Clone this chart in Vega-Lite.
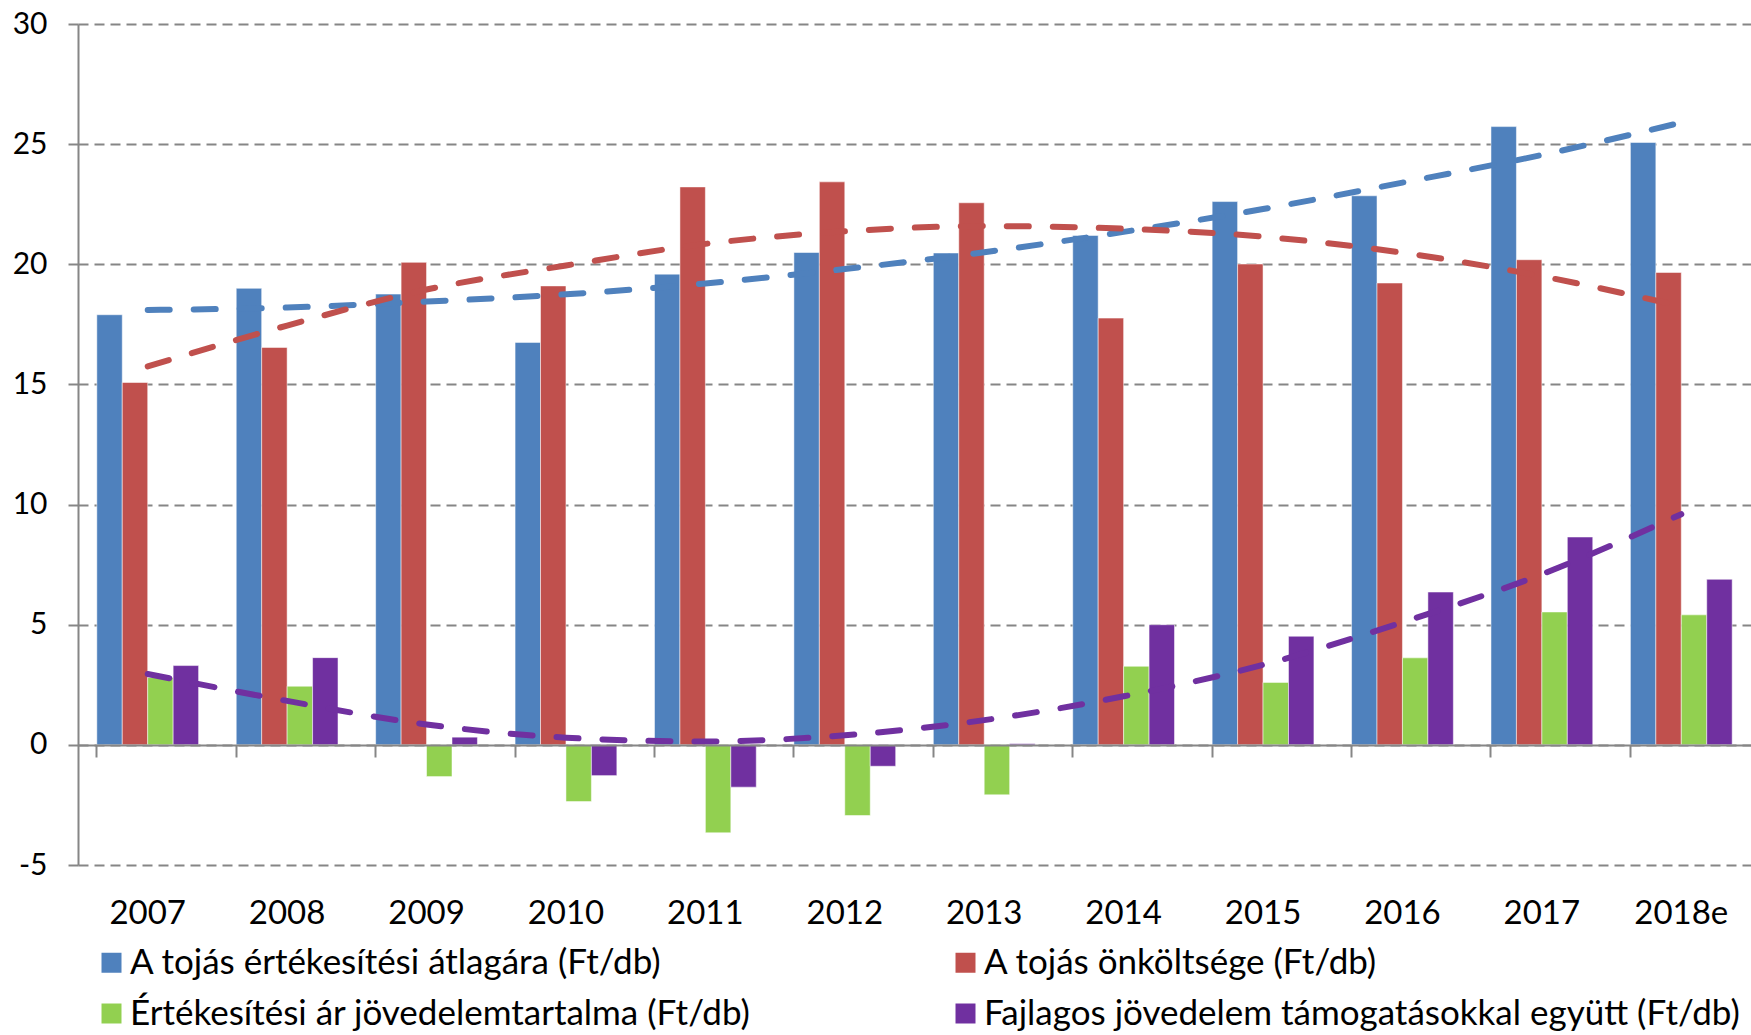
{
  "$schema": "https://vega.github.io/schema/vega-lite/v6.json",
  "width": 1673,
  "height": 841,
  "autosize": {"type": "none"},
  "padding": {"left": 78, "top": 24, "right": 0, "bottom": 170},
  "background": "white",
  "config": {"font": "Lato", "view": {"stroke": null}},
  "datasets": {
    "bars": [
      {"year": "2007", "series": "A tojás értékesítési átlagára (Ft/db)", "value": 17.9},
      {"year": "2007", "series": "A tojás önköltsége (Ft/db)", "value": 15.08},
      {"year": "2007", "series": "Értékesítési ár jövedelemtartalma (Ft/db)", "value": 2.8},
      {"year": "2007", "series": "Fajlagos jövedelem támogatásokkal együtt (Ft/db)", "value": 3.3},
      {"year": "2008", "series": "A tojás értékesítési átlagára (Ft/db)", "value": 19.0},
      {"year": "2008", "series": "A tojás önköltsége (Ft/db)", "value": 16.54},
      {"year": "2008", "series": "Értékesítési ár jövedelemtartalma (Ft/db)", "value": 2.44},
      {"year": "2008", "series": "Fajlagos jövedelem támogatásokkal együtt (Ft/db)", "value": 3.63},
      {"year": "2009", "series": "A tojás értékesítési átlagára (Ft/db)", "value": 18.76},
      {"year": "2009", "series": "A tojás önköltsége (Ft/db)", "value": 20.08},
      {"year": "2009", "series": "Értékesítési ár jövedelemtartalma (Ft/db)", "value": -1.32},
      {"year": "2009", "series": "Fajlagos jövedelem támogatásokkal együtt (Ft/db)", "value": 0.32},
      {"year": "2010", "series": "A tojás értékesítési átlagára (Ft/db)", "value": 16.75},
      {"year": "2010", "series": "A tojás önköltsége (Ft/db)", "value": 19.1},
      {"year": "2010", "series": "Értékesítési ár jövedelemtartalma (Ft/db)", "value": -2.36},
      {"year": "2010", "series": "Fajlagos jövedelem támogatásokkal együtt (Ft/db)", "value": -1.28},
      {"year": "2011", "series": "A tojás értékesítési átlagára (Ft/db)", "value": 19.59},
      {"year": "2011", "series": "A tojás önköltsége (Ft/db)", "value": 23.22},
      {"year": "2011", "series": "Értékesítési ár jövedelemtartalma (Ft/db)", "value": -3.66},
      {"year": "2011", "series": "Fajlagos jövedelem támogatásokkal együtt (Ft/db)", "value": -1.76},
      {"year": "2012", "series": "A tojás értékesítési átlagára (Ft/db)", "value": 20.49},
      {"year": "2012", "series": "A tojás önköltsége (Ft/db)", "value": 23.43},
      {"year": "2012", "series": "Értékesítési ár jövedelemtartalma (Ft/db)", "value": -2.94},
      {"year": "2012", "series": "Fajlagos jövedelem támogatásokkal együtt (Ft/db)", "value": -0.89},
      {"year": "2013", "series": "A tojás értékesítési átlagára (Ft/db)", "value": 20.47},
      {"year": "2013", "series": "A tojás önköltsége (Ft/db)", "value": 22.56},
      {"year": "2013", "series": "Értékesítési ár jövedelemtartalma (Ft/db)", "value": -2.08},
      {"year": "2013", "series": "Fajlagos jövedelem támogatásokkal együtt (Ft/db)", "value": 0.05},
      {"year": "2014", "series": "A tojás értékesítési átlagára (Ft/db)", "value": 21.2},
      {"year": "2014", "series": "A tojás önköltsége (Ft/db)", "value": 17.76},
      {"year": "2014", "series": "Értékesítési ár jövedelemtartalma (Ft/db)", "value": 3.27},
      {"year": "2014", "series": "Fajlagos jövedelem támogatásokkal együtt (Ft/db)", "value": 5.0},
      {"year": "2015", "series": "A tojás értékesítési átlagára (Ft/db)", "value": 22.61},
      {"year": "2015", "series": "A tojás önköltsége (Ft/db)", "value": 20.01},
      {"year": "2015", "series": "Értékesítési ár jövedelemtartalma (Ft/db)", "value": 2.6},
      {"year": "2015", "series": "Fajlagos jövedelem támogatásokkal együtt (Ft/db)", "value": 4.52},
      {"year": "2016", "series": "A tojás értékesítési átlagára (Ft/db)", "value": 22.85},
      {"year": "2016", "series": "A tojás önköltsége (Ft/db)", "value": 19.22},
      {"year": "2016", "series": "Értékesítési ár jövedelemtartalma (Ft/db)", "value": 3.62},
      {"year": "2016", "series": "Fajlagos jövedelem támogatásokkal együtt (Ft/db)", "value": 6.36},
      {"year": "2017", "series": "A tojás értékesítési átlagára (Ft/db)", "value": 25.73},
      {"year": "2017", "series": "A tojás önköltsége (Ft/db)", "value": 20.19},
      {"year": "2017", "series": "Értékesítési ár jövedelemtartalma (Ft/db)", "value": 5.53},
      {"year": "2017", "series": "Fajlagos jövedelem támogatásokkal együtt (Ft/db)", "value": 8.65},
      {"year": "2018e", "series": "A tojás értékesítési átlagára (Ft/db)", "value": 25.07},
      {"year": "2018e", "series": "A tojás önköltsége (Ft/db)", "value": 19.66},
      {"year": "2018e", "series": "Értékesítési ár jövedelemtartalma (Ft/db)", "value": 5.41},
      {"year": "2018e", "series": "Fajlagos jövedelem támogatásokkal együtt (Ft/db)", "value": 6.89}
    ],
    "trend": [
      {"year": "2007", "series": "A tojás értékesítési átlagára (Ft/db)", "trend": 18.1},
      {"year": "2008", "series": "A tojás értékesítési átlagára (Ft/db)", "trend": 18.2},
      {"year": "2009", "series": "A tojás értékesítési átlagára (Ft/db)", "trend": 18.45},
      {"year": "2010", "series": "A tojás értékesítési átlagára (Ft/db)", "trend": 18.75},
      {"year": "2011", "series": "A tojás értékesítési átlagára (Ft/db)", "trend": 19.2},
      {"year": "2012", "series": "A tojás értékesítési átlagára (Ft/db)", "trend": 19.8},
      {"year": "2013", "series": "A tojás értékesítési átlagára (Ft/db)", "trend": 20.5},
      {"year": "2014", "series": "A tojás értékesítési átlagára (Ft/db)", "trend": 21.35},
      {"year": "2015", "series": "A tojás értékesítési átlagára (Ft/db)", "trend": 22.3},
      {"year": "2016", "series": "A tojás értékesítési átlagára (Ft/db)", "trend": 23.4},
      {"year": "2017", "series": "A tojás értékesítési átlagára (Ft/db)", "trend": 24.55},
      {"year": "2018e", "series": "A tojás értékesítési átlagára (Ft/db)", "trend": 25.9},
      {"year": "2007", "series": "A tojás önköltsége (Ft/db)", "trend": 15.75},
      {"year": "2008", "series": "A tojás önköltsége (Ft/db)", "trend": 17.45},
      {"year": "2009", "series": "A tojás önköltsége (Ft/db)", "trend": 18.95},
      {"year": "2010", "series": "A tojás önköltsége (Ft/db)", "trend": 19.95},
      {"year": "2011", "series": "A tojás önköltsége (Ft/db)", "trend": 20.85},
      {"year": "2012", "series": "A tojás önköltsége (Ft/db)", "trend": 21.37},
      {"year": "2013", "series": "A tojás önköltsége (Ft/db)", "trend": 21.59},
      {"year": "2014", "series": "A tojás önköltsége (Ft/db)", "trend": 21.48},
      {"year": "2015", "series": "A tojás önköltsége (Ft/db)", "trend": 21.15},
      {"year": "2016", "series": "A tojás önköltsége (Ft/db)", "trend": 20.48},
      {"year": "2017", "series": "A tojás önköltsége (Ft/db)", "trend": 19.5},
      {"year": "2018e", "series": "A tojás önköltsége (Ft/db)", "trend": 18.25},
      {"year": "2007", "series": "Fajlagos jövedelem támogatásokkal együtt (Ft/db)", "trend": 2.95},
      {"year": "2008", "series": "Fajlagos jövedelem támogatásokkal együtt (Ft/db)", "trend": 1.83},
      {"year": "2009", "series": "Fajlagos jövedelem támogatásokkal együtt (Ft/db)", "trend": 0.85},
      {"year": "2010", "series": "Fajlagos jövedelem támogatásokkal együtt (Ft/db)", "trend": 0.3},
      {"year": "2011", "series": "Fajlagos jövedelem támogatásokkal együtt (Ft/db)", "trend": 0.14},
      {"year": "2012", "series": "Fajlagos jövedelem támogatásokkal együtt (Ft/db)", "trend": 0.4},
      {"year": "2013", "series": "Fajlagos jövedelem támogatásokkal együtt (Ft/db)", "trend": 1.03},
      {"year": "2014", "series": "Fajlagos jövedelem támogatásokkal együtt (Ft/db)", "trend": 2.02},
      {"year": "2015", "series": "Fajlagos jövedelem támogatásokkal együtt (Ft/db)", "trend": 3.33},
      {"year": "2016", "series": "Fajlagos jövedelem támogatásokkal együtt (Ft/db)", "trend": 5.1},
      {"year": "2017", "series": "Fajlagos jövedelem támogatásokkal együtt (Ft/db)", "trend": 7.1},
      {"year": "2018e", "series": "Fajlagos jövedelem támogatásokkal együtt (Ft/db)", "trend": 9.6}
    ]
  },
  "layer": [
    {
      "data": {"name": "bars"},
      "mark": {"type": "bar", "stroke": "#ffffff", "strokeOpacity": 0.5, "strokeWidth": 1},
      "encoding": {
        "x": {
          "field": "year", "type": "nominal", "sort": null,
          "scale": {"paddingInner": 0.27, "paddingOuter": 0.135},
          "axis": {
            "orient": "bottom", "offset": -120, "labels": false, "title": null,
            "ticks": true, "tickSize": 12, "tickColor": "#868686", "tickWidth": 2,
            "bandPosition": 0, "domain": true, "domainColor": "#868686", "domainWidth": 2,
            "grid": false, "zindex": 1
          }
        },
        "xOffset": {
          "field": "series", "type": "nominal",
          "sort": ["A tojás értékesítési átlagára (Ft/db)", "A tojás önköltsége (Ft/db)", "Értékesítési ár jövedelemtartalma (Ft/db)", "Fajlagos jövedelem támogatásokkal együtt (Ft/db)"],
          "scale": {"paddingInner": 0, "paddingOuter": 0}
        },
        "y": {
          "field": "value", "type": "quantitative",
          "scale": {"domain": [-5, 30], "nice": false, "zero": false},
          "axis": {
            "title": null, "values": [-5, 0, 5, 10, 15, 20, 25, 30],
            "labelExpr": "datum.value + ''",
            "grid": true, "gridColor": "#868686", "gridWidth": 2, "gridDash": [10, 6],
            "domain": true, "domainColor": "#868686", "domainWidth": 2,
            "ticks": true, "tickSize": 11, "tickColor": "#868686", "tickWidth": 2, "tickDash": [10, 6],
            "labelFontSize": 30, "labelColor": "#000000", "labelPadding": 20
          }
        },
        "color": {
          "field": "series", "type": "nominal",
          "scale": {
            "domain": ["A tojás értékesítési átlagára (Ft/db)", "A tojás önköltsége (Ft/db)", "Értékesítési ár jövedelemtartalma (Ft/db)", "Fajlagos jövedelem támogatásokkal együtt (Ft/db)"],
            "range": ["#4F81BD", "#C0504D", "#92D050", "#7030A0"]
          },
          "legend": {
            "orient": "none", "legendX": 16, "legendY": 921, "columns": 2, "direction": "horizontal", "title": null,
            "symbolType": "square", "symbolSize": 400, "symbolStrokeWidth": 0,
            "labelFontSize": 35, "labelColor": "#000000", "labelOffset": 1, "labelLimit": 1000,
            "columnPadding": 197, "rowPadding": 15, "padding": 0, "gridAlign": "each"
          }
        }
      }
    },
    {
      "data": {"name": "trend"},
      "mark": {"type": "line", "strokeDash": [22, 24], "strokeCap": "round", "strokeWidth": 6, "interpolate": "monotone"},
      "encoding": {
        "x": {
          "field": "year", "type": "nominal", "sort": null,
          "axis": {
            "orient": "bottom", "title": null, "domain": false, "ticks": false, "tickSize": 0,
            "labelFontSize": 33, "labelColor": "#000000", "labelPadding": 32, "labelAngle": 0, "grid": false
          }
        },
        "y": {"field": "trend", "type": "quantitative", "axis": {"title": null}},
        "stroke": {
          "field": "series", "type": "nominal",
          "scale": {
            "domain": ["A tojás értékesítési átlagára (Ft/db)", "A tojás önköltsége (Ft/db)", "Fajlagos jövedelem támogatásokkal együtt (Ft/db)"],
            "range": ["#4F81BD", "#C0504D", "#7030A0"]
          },
          "legend": null
        }
      }
    }
  ],
  "resolve": {"axis": {"x": "independent"}}
}
